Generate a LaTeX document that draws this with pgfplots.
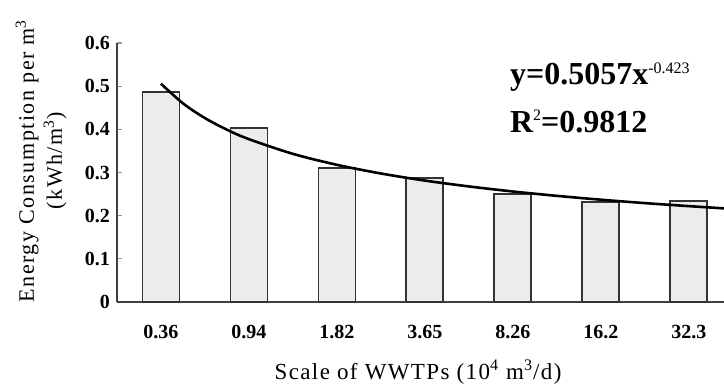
\documentclass[border=0pt]{standalone}
\usepackage{pgfplots}
\pgfplotsset{compat=1.18}
\usepackage{fontspec}
\setmainfont{Liberation Serif}
\newfontfamily\spaced[LetterSpace=6]{Liberation Serif}
\newfontfamily\yspaced[LetterSpace=7]{Liberation Serif}
\begin{document}
\begin{tikzpicture}
\clip (-58.5pt,-41.5pt) rectangle (303.5pt,151pt);
\begin{axis}[
  at={(0pt,0pt)}, anchor=south west, scale only axis,
  width=303.5pt, height=129.5pt,
  xmin=0.5, xmax=7.4, ymin=0, ymax=0.6,
  axis x line=bottom, axis y line=left,
  axis line style={-, line width=1pt, draw=black!75},
  xtick={1,2,3,4,5,6,7},
  xticklabels={0.36,0.94,1.82,3.65,8.26,16.2,32.3},
  xtick style={draw=none},
  ytick={0,0.1,0.2,0.3,0.4,0.5,0.6},
  ytick style={draw=black!40, line width=0.6pt},
  tick align=inside, major tick length=2.5pt,
  /pgf/number format/assume math mode=true,
  yticklabel style={/pgf/number format/fixed, /pgf/number format/precision=1, font=\bfseries\fontsize{10}{12}\selectfont},
  xticklabel style={font=\bfseries\fontsize{10}{12}\selectfont, yshift=-8pt},
  xlabel={Scale of WWTPs (10\textsuperscript{4} m\textsuperscript{3}/d)},
  xlabel style={font=\spaced\fontsize{11.5}{13}\selectfont, at={(axis description cs:0.496,-0.2703)}, anchor=center},
  ylabel={Energy Consumption per m\textsuperscript{3}\\(kWh/m\textsuperscript{3})},
  ylabel style={font=\yspaced\fontsize{11}{14}\selectfont, align=center, at={(axis description cs:-0.1250,0.545)}, anchor=center},
  clip=false,
]
\addplot[ybar, bar width=18.5pt, fill=gray!15, draw=black!80, line width=0.9pt]
  coordinates {(1,0.487) (2,0.403) (3,0.310) (4,0.287) (5,0.250) (6,0.232) (7,0.234)};
\addplot[smooth, black, line width=1.3pt, no marks]
  coordinates {(1,0.5057) (1.25,0.4601) (1.5,0.4260) (1.75,0.3991) (2,0.3772) (2.5,0.3432) (3,0.3178) (3.5,0.2977) (4,0.2813) (4.5,0.2677) (5,0.2560) (5.5,0.2459) (6,0.2370) (6.5,0.2291) (7,0.2221) (7.4,0.2169)};
\end{axis}
\node[anchor=base west, font=\bfseries\fontsize{16}{18}\selectfont] at (193pt,108.5pt) {y=0.5057x\raisebox{5.5pt}{\mdseries\fontsize{8}{9}\selectfont -0.423}};
\node[anchor=base west, font=\bfseries\fontsize{16}{18}\selectfont] at (193pt,84.5pt) {R\raisebox{6pt}{\mdseries\fontsize{8}{9}\selectfont 2}=0.9812};
\end{tikzpicture}
\end{document}
